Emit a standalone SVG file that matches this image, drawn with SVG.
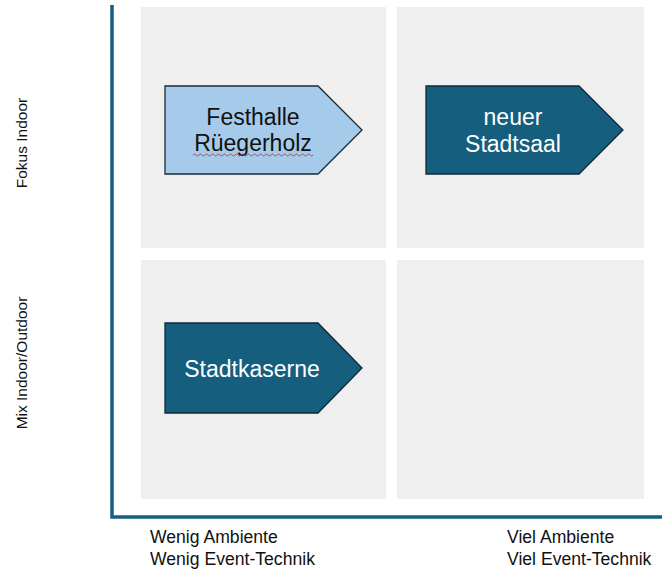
<svg xmlns="http://www.w3.org/2000/svg" width="662" height="569" viewBox="0 0 662 569">
<style>
.quad{fill:#efefef}
.axis{stroke:#165e7f;stroke-width:3.5;fill:none}
.light{fill:#a6cbea;stroke:#1a2a35;stroke-width:1.3}
.dark{fill:#155e7d;stroke:#0e2a38;stroke-width:1.3}
.t{font-family:"Liberation Sans",Arial,sans-serif;text-anchor:middle;font-size:23px}
.lbl{font-family:"Liberation Sans",Arial,sans-serif;font-size:17.6px;fill:#111}
.side{font-family:"Liberation Sans",Arial,sans-serif;font-size:15.5px;fill:#111;text-anchor:middle}
</style>
<rect width="662" height="569" fill="#ffffff"/>
<g id="quadrants">
<rect class="quad" x="141" y="7" width="245" height="241"/>
<rect class="quad" x="397" y="7" width="247" height="241"/>
<rect class="quad" x="141" y="260" width="245" height="239"/>
<rect class="quad" x="397" y="260" width="247" height="239"/>
</g>
<g id="axes">
<path class="axis" d="M112 5 V517 H662"/>
</g>
<g id="festhalle">
<polygon class="light" points="165,86 318,86 362,130 318,174 165,174"/>
<text class="t" x="253" y="125" fill="#111">Festhalle</text>
<text class="t" x="253" y="151" fill="#111">Rüegerholz</text>
<path d="M193 155 q1.5 -2 3 0 t3 0 t3 0 t3 0 t3 0 t3 0 t3 0 t3 0 t3 0 t3 0 t3 0 t3 0 t3 0 t3 0 t3 0 t3 0 t3 0 t3 0 t3 0 t3 0 t3 0 t3 0 t3 0 t3 0 t3 0 t3 0 t3 0 t3 0 t3 0 t3 0 t3 0 t3 0 t3 0 t3 0 t3 0 t3 0 t3 0 t3 0 t3 0 t3 0" fill="none" stroke="#e03030" stroke-width="0.9"/>
</g>
<g id="stadtsaal">
<polygon class="dark" points="426,86 579,86 623,130 579,174 426,174"/>
<text class="t" x="513" y="125" fill="#ffffff">neuer</text>
<text class="t" x="513" y="152" fill="#ffffff">Stadtsaal</text>
</g>
<g id="stadtkaserne">
<polygon class="dark" points="165,323 318,323 362,368 318,413 165,413"/>
<text class="t" x="252" y="377" fill="#ffffff">Stadtkaserne</text>
</g>
<g id="labels">
<text class="side" transform="translate(27,143) rotate(-90)">Fokus Indoor</text>
<text class="side" transform="translate(27,363) rotate(-90)">Mix Indoor/Outdoor</text>
<text class="lbl" x="150" y="543">Wenig Ambiente</text>
<text class="lbl" x="150" y="565">Wenig Event-Technik</text>
<text class="lbl" x="507" y="543">Viel Ambiente</text>
<text class="lbl" x="507" y="565">Viel Event-Technik</text>
</g>
</svg>
